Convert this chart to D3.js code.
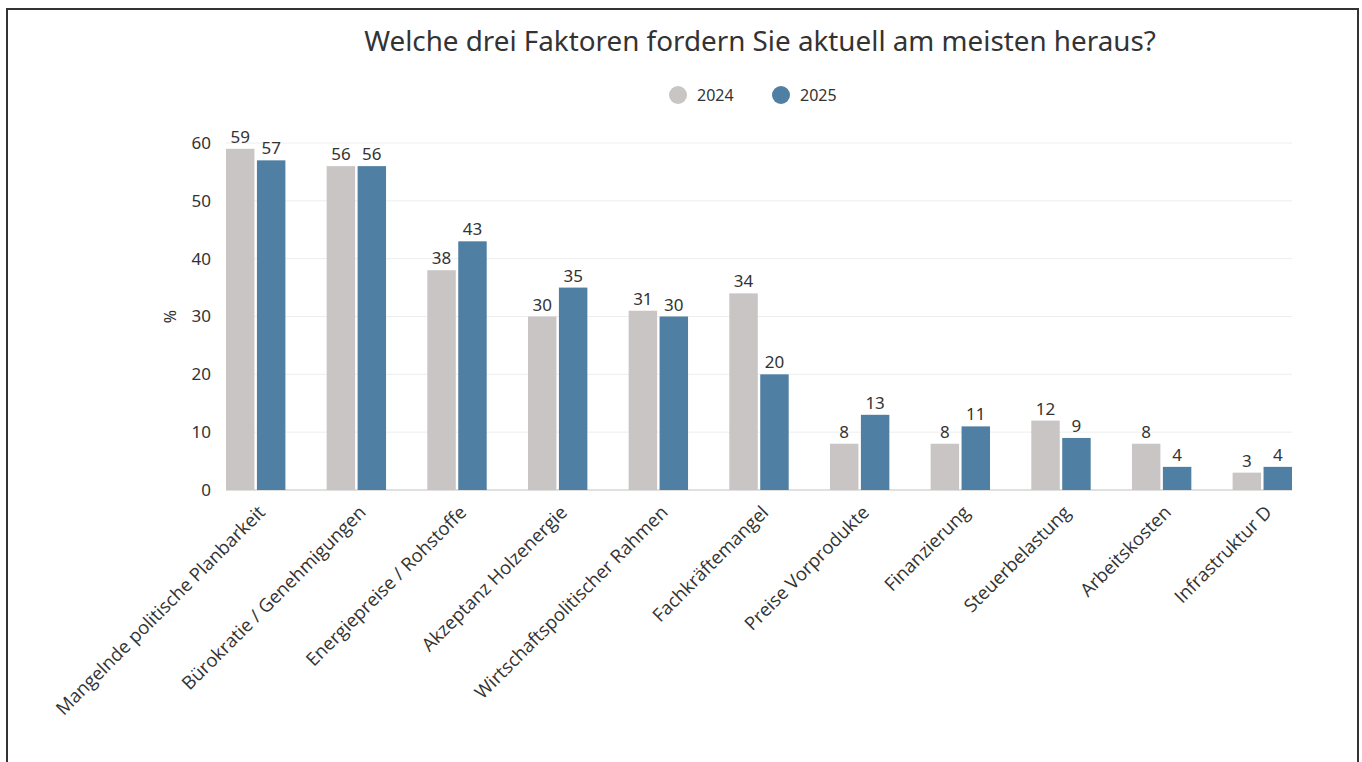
<!DOCTYPE html>
<html>
<head>
<meta charset="utf-8">
<script src="https://cdn.jsdelivr.net/npm/d3@7"></script>
<style>
  body { margin: 0; background: #fff; }
  svg { display: block; }
</style>
</head>
<body>
<div id="chart"></div>
<script>
// data
var categories = ["Mangelnde politische Planbarkeit", "Bürokratie / Genehmigungen", "Energiepreise / Rohstoffe",
  "Akzeptanz Holzenergie", "Wirtschaftspolitischer Rahmen", "Fachkräftemangel", "Preise Vorprodukte",
  "Finanzierung", "Steuerbelastung", "Arbeitskosten", "Infrastruktur D"];
var years = ["2024", "2025"];
var values2024 = [59, 56, 38, 30, 31, 34, 8, 8, 12, 8, 3];
var values2025 = [57, 56, 43, 35, 30, 20, 13, 11, 9, 4, 4];
var yTicks = [0, 10, 20, 30, 40, 50, 60];
var colors = ["#c9c5c5", "#4f7fa2"];
var title = "Welche drei Faktoren fordern Sie aktuell am meisten heraus?";

var width = 1362, height = 762;
var margin = {left: 226, right: 70, top: 143, bottom: 272};

var svg = d3.select("#chart").append("svg")
    .attr("width", width)
    .attr("height", height);

// frame
svg.append("path")
    .attr("d", "M7,762 V9 H1358 V762")
    .attr("fill", "none")
    .attr("stroke", "#333")
    .attr("stroke-width", 2);

var x = d3.scaleBand()
    .domain(categories)
    .range([margin.left, width - margin.right])
    .paddingInner(0.41)
    .paddingOuter(0);

var xInner = d3.scaleBand()
    .domain(years)
    .range([0, x.bandwidth()])
    .paddingInner(0.08);

var y = d3.scaleLinear()
    .domain([0, 60])
    .range([height - margin.bottom, margin.top]);

// gridlines
svg.append("g").selectAll("line")
    .data(yTicks)
  .enter().append("line")
    .attr("x1", margin.left)
    .attr("x2", width - margin.right)
    .attr("y1", function(d) { return y(d); })
    .attr("y2", function(d) { return y(d); })
    .attr("stroke", function(d) { return d == 0 ? "#e0e0e0" : "#eeeeee"; })
    .attr("stroke-width", function(d) { return d == 0 ? 2 : 1; });

// y axis labels
var yAxis = svg.append("g")
    .attr("transform", "translate(" + margin.left + ",0)")
    .call(d3.axisLeft(y).tickValues(yTicks).tickSize(0).tickPadding(15));
yAxis.select(".domain").remove();
yAxis.selectAll("text")
    .attr("font-family", "'Noto Sans', sans-serif")
    .attr("font-size", 17)
    .attr("fill", "#333");

svg.append("text")
    .attr("transform", "translate(176," + y(30) + ") rotate(-90)")
    .attr("text-anchor", "middle")
    .attr("font-family", "'Noto Sans', sans-serif")
    .attr("font-size", 16)
    .attr("fill", "#333")
    .text("%");

// bars
var rows = categories.map(function(c, i) {
  return {cat: c, vals: [{year: years[0], v: values2024[i]}, {year: years[1], v: values2025[i]}]};
});

var groups = svg.append("g").selectAll("g")
    .data(rows)
  .enter().append("g")
    .attr("transform", function(d) { return "translate(" + x(d.cat) + ",0)"; });

groups.selectAll("rect")
    .data(function(d) { return d.vals; })
  .enter().append("rect")
    .attr("x", function(d) { return xInner(d.year); })
    .attr("y", function(d) { return y(d.v); })
    .attr("width", xInner.bandwidth())
    .attr("height", function(d) { return y(0) - y(d.v); })
    .attr("fill", function(d, i) { return colors[i]; });

groups.selectAll("text")
    .data(function(d) { return d.vals; })
  .enter().append("text")
    .attr("x", function(d) { return xInner(d.year) + xInner.bandwidth() / 2; })
    .attr("y", function(d) { return y(d.v) - 6; })
    .attr("text-anchor", "middle")
    .attr("font-family", "'Noto Sans', sans-serif")
    .attr("font-size", 17)
    .attr("fill", "#333")
    .text(function(d) { return d.v; });

// category labels, rotated
svg.append("g").selectAll("text")
    .data(categories)
  .enter().append("text")
    .attr("transform", function(d) {
      return "translate(" + (x(d) + x.bandwidth() / 2 + 6) + "," + (y(0) + 19) + ") rotate(-45)";
    })
    .attr("text-anchor", "end")
    .attr("dy", "0.35em")
    .attr("font-family", "'Open Sans', sans-serif")
    .attr("font-size", 18.5)
    .attr("fill", "#333")
    .text(function(d) { return d; });

// title
svg.append("text")
    .attr("x", 760)
    .attr("y", 51)
    .attr("text-anchor", "middle")
    .attr("font-family", "'Noto Sans', sans-serif")
    .attr("font-size", 27.8)
    .attr("fill", "#333")
    .text(title);

// legend
var legend = svg.append("g").selectAll("g")
    .data(years)
  .enter().append("g")
    .attr("transform", function(d, i) { return "translate(" + (678 + i * 103) + ",95)"; });
legend.append("circle")
    .attr("r", 9)
    .attr("fill", function(d, i) { return colors[i]; });
legend.append("text")
    .attr("x", 19)
    .attr("dy", "0.35em")
    .attr("font-family", "'Noto Sans', sans-serif")
    .attr("font-size", 16)
    .attr("fill", "#333")
    .text(function(d) { return d; });
</script>
</body>
</html>
